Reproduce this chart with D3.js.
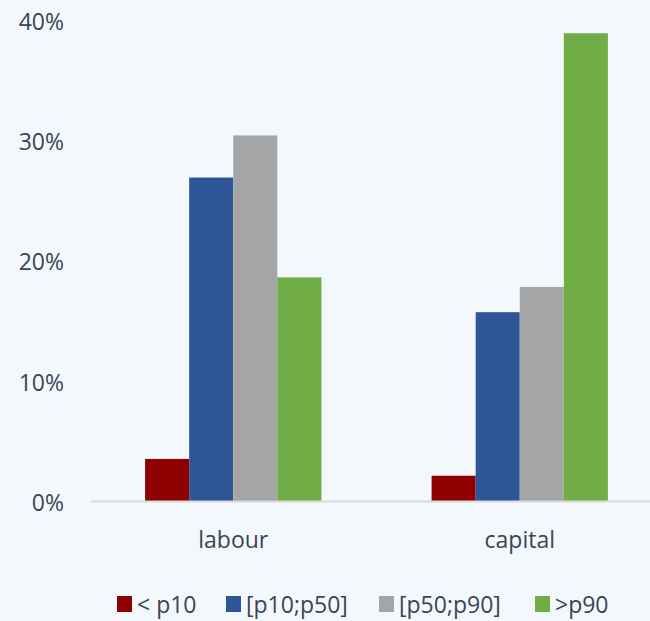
<!DOCTYPE html>
<html>
<head>
<meta charset="utf-8">
<script src="https://cdn.jsdelivr.net/npm/d3@7"></script>
<style>
  body { margin: 0; background: #f3f8fc; }
  svg { display: block; font-family: "Open Sans", sans-serif; }
  text { fill: #3b4556; }
</style>
</head>
<body>
<svg id="chart" width="650" height="621"></svg>
<script>
// chart values (share of income, %)
var categories = ["labour", "capital"];
var series = ["< p10", "[p10;p50]", "[p50;p90]", ">p90"];
var colors = ["#8f0000", "#2e5595", "#a5a5a5", "#70ad47"];
var labourValues = [3.5, 26.9, 30.4, 18.6];
var capitalValues = [2.1, 15.7, 17.8, 38.9];
var yTicks = [0, 10, 20, 30, 40];

var svg = d3.select("#chart");
var width = 650, height = 621;
var fontSize = 23;

svg.append('rect')
    .attr('width', width).attr('height', height)
    .attr('fill', "#f3f8fc");

var x0 = d3.scaleBand().domain(categories).range([90, 663]).padding(0);
var x1 = d3.scaleBand().domain(series).range([0, x0.bandwidth()])
    .paddingInner(0).paddingOuter(1.25);
var y = d3.scaleLinear().domain([0, 40]).range([501, 20]);

var rows = categories.map(function (c, i) {
    var vals = i == 0 ? labourValues : capitalValues;
    return {category: c, values: series.map(function (s, j) { return {series: s, value: vals[j], color: colors[j]}; })};
});

// Y axis labels (no line, no gridlines)
var yAxis = d3.axisLeft(y).tickValues(yTicks)
    .tickFormat(function (d) { return d + "%"; })
    .tickSize(0).tickPadding(0);
var yg = svg.append('g')
    .attr('transform', "translate(64, 2)")
    .call(yAxis);
yg.select('.domain').remove();
yg.selectAll('text').attr('font-size', fontSize).attr('fill', "#3b4556").style('font-family', '"Open Sans", sans-serif');

// Bars
var groups = svg.selectAll('g.cat').data(rows).enter()
    .append('g')
    .attr('class', 'cat')
    .attr('transform', function (d) { return "translate(" + x0(d.category) + ",0)"; });
groups.selectAll('rect').data(function (d) { return d.values; }).enter()
    .append('rect')
    .attr('x', function (d) { return x1(d.series); })
    .attr('width', x1.bandwidth())
    .attr('y', function (d) { return y(d.value); })
    .attr('height', function (d) { return y(0) - y(d.value); })
    .attr('fill', function (d) { return d.color; });

// X axis
var xAxis = d3.axisBottom(x0).tickSize(0).tickPadding(0);
var xg = svg.append('g')
    .attr('transform', "translate(0, " + y(0) + ")")
    .call(xAxis);
xg.select('.domain').attr('stroke', "#d9d9d9").attr('stroke-width', 2);
xg.selectAll('text')
    .attr('dy', null)
    .attr('y', 47)
    .attr('font-size', fontSize).attr('fill', "#3b4556")
    .style('font-family', '"Open Sans", sans-serif');

// Legend
var legendX = [117, 226, 379, 535];
var legend = svg.selectAll('g.legend').data(series).enter()
    .append('g')
    .attr('class', 'legend')
    .attr('transform', function (d, i) { return "translate(" + legendX[i] + ", 596)"; });
legend.append('rect')
    .attr('width', 15).attr('height', 16)
    .attr('fill', function (d, i) { return colors[i]; });
legend.append('text')
    .attr('x', 20).attr('y', 17)
    .attr('font-size', fontSize)
    .text(function (d) { return d; });
</script>
</body>
</html>
